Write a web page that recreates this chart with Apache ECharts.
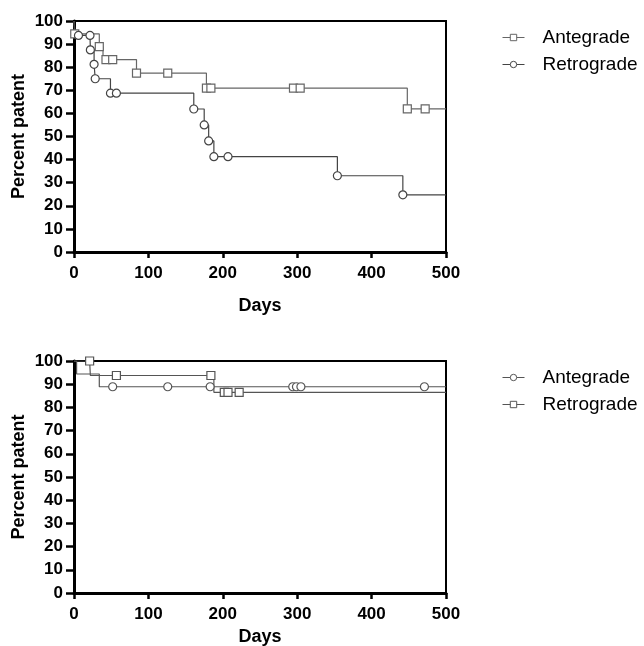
<!DOCTYPE html>
<html>
<head>
<meta charset="utf-8">
<script src="https://cdn.jsdelivr.net/npm/echarts@6/dist/echarts.min.js"></script>
<style>
    html, body { margin: 0; padding: 0; background: #fff; }
    #main { width: 644px; height: 646px; }
</style>
</head>
<body>
<div id="main"></div>
<script>
// x / y axis ticks
const dayTicks = [0, 100, 200, 300, 400, 500];
const pctTicks = [0, 10, 20, 30, 40, 50, 60, 70, 80, 90, 100];

// top panel - step curves (day of each drop, survival after it) and symbol days
const topAnteDays = [0, 1, 34, 39, 84, 178, 448];
const topAnteSurv = [100, 94.4, 88.9, 83.3, 77.4, 70.9, 62.0];
const topAnteMarks = [1, 34, 43, 52, 84, 126, 178, 184, 295, 304, 448, 472];

const topRetroDays = [0, 2, 22, 27, 28.5, 49, 161, 175, 181, 188, 354, 442];
const topRetroSurv = [100, 93.75, 87.5, 81.25, 75, 68.75, 61.9, 55.0, 48.1, 41.25, 33.0, 24.75];
const topRetroMarks = [6, 21.5, 22, 27, 28.5, 49, 57, 161, 175, 181, 188, 207, 354, 442];

// bottom panel
const botAnteDays = [0, 3.5, 34];
const botAnteSurv = [100, 94.4, 88.9];
const botAnteMarks = [52, 126, 183, 294, 299, 305, 471];

const botRetroDays = [0, 22, 188];
const botRetroSurv = [100, 93.75, 86.5];
const botRetroMarks = [21, 57, 184, 202, 207, 222];

const endDay = 500;

// survival value at day t (right-continuous step)
function survAt(days, surv, t) {
    let v = surv[0];
    for (let i = 0; i < days.length; i++) {
        if (days[i] <= t) v = surv[i];
    }
    return v;
}

// merge curve points (no symbol) and marked points into one stepped line
function kmData(days, surv, marks) {
    let pts = days.map((d, i) => ({ value: [d, surv[i]], symbol: 'none', ord: 0 }));
    pts.push({ value: [endDay, surv[surv.length - 1]], symbol: 'none', ord: 0 });
    marks.forEach(m => {
        pts.push({ value: [m, survAt(days, surv, m)], ord: 1 });
    });
    pts.sort((a, b) => a.value[0] - b.value[0] || a.ord - b.ord);
    return pts.map(p => {
        let o = { value: p.value };
        if (p.symbol) o.symbol = p.symbol;
        return o;
    });
}

const font = '"Liberation Sans", Arial, sans-serif';

function xAxisFor(gridIndex, gap) {
    return {
        type: 'value', gridIndex: gridIndex,
        min: 0, max: 500, interval: 100,
        name: 'Days', nameLocation: 'middle', nameGap: gap,
        nameMoveOverlap: false,
        nameTextStyle: { fontFamily: font, fontWeight: 'bold', fontSize: 18, color: '#000' },
        axisLine: { lineStyle: { color: '#000', width: 3 } },
        axisTick: { length: 6, lineStyle: { color: '#000', width: 2.5 } },
        axisLabel: {
            margin: 13, fontFamily: font, fontWeight: 'bold', fontSize: 17, color: '#000',
            customValues: dayTicks
        },
        splitLine: { show: false }
    };
}

function yAxisFor(gridIndex) {
    return {
        type: 'value', gridIndex: gridIndex,
        min: 0, max: 100, interval: 10,
        name: 'Percent patent', nameLocation: 'middle', nameGap: 46,
        nameMoveOverlap: false,
        nameTextStyle: { fontFamily: font, fontWeight: 'bold', fontSize: 18, color: '#000' },
        axisLine: { lineStyle: { color: '#000', width: 3 } },
        axisTick: { length: 8, lineStyle: { color: '#000', width: 2.5 } },
        axisLabel: {
            margin: 11, fontFamily: font, fontWeight: 'bold', fontSize: 17, color: '#000',
            customValues: pctTicks
        },
        splitLine: { show: false }
    };
}

function kmSeries(name, idx, symbol, color, days, surv, marks) {
    return {
        name: name, type: 'line', step: 'end',
        xAxisIndex: idx, yAxisIndex: idx,
        symbol: symbol, symbolSize: 8,
        showAllSymbol: true,
        lineStyle: { color: color, width: 1.2 },
        itemStyle: { color: '#fff', borderColor: color, borderWidth: 1.2 },
        emphasis: { disabled: true },
        animation: false,
        data: kmData(days, surv, marks)
    };
}

function legendFor(top, names) {
    return {
        orient: 'vertical', left: 497, top: top,
        itemWidth: 22, itemHeight: 8, itemGap: 8,
        data: names,
        selectedMode: false,
        formatter: n => n.split(':')[1],
        lineStyle: { width: 1 },
        itemStyle: { borderWidth: 1 },
        textStyle: { fontFamily: font, fontSize: 19, color: '#000', padding: [0, 0, 0, 13] }
    };
}

const chart = echarts.init(document.getElementById('main'), null, { renderer: 'canvas' });

chart.setOption({
    backgroundColor: '#fff',
    animation: false,
    grid: [
        { left: 74, top: 21, width: 372, height: 231, show: true, borderColor: '#000', borderWidth: 2,
          containLabel: false, outerBoundsMode: 'none' },
        { left: 74, top: 361, width: 372, height: 232, show: true, borderColor: '#000', borderWidth: 2,
          containLabel: false, outerBoundsMode: 'none' }
    ],
    xAxis: [xAxisFor(0, 45), xAxisFor(1, 35)],
    yAxis: [yAxisFor(0), yAxisFor(1)],
    legend: [
        legendFor(23, ['top:Antegrade', 'top:Retrograde']),
        legendFor(363, ['bot:Antegrade', 'bot:Retrograde'])
    ],
    series: [
        kmSeries('top:Antegrade', 0, 'rect', '#666', topAnteDays, topAnteSurv, topAnteMarks),
        kmSeries('top:Retrograde', 0, 'circle', '#444', topRetroDays, topRetroSurv, topRetroMarks),
        kmSeries('bot:Antegrade', 1, 'circle', '#555', botAnteDays, botAnteSurv, botAnteMarks),
        kmSeries('bot:Retrograde', 1, 'rect', '#555', botRetroDays, botRetroSurv, botRetroMarks)
    ]
});
</script>
</body>
</html>
